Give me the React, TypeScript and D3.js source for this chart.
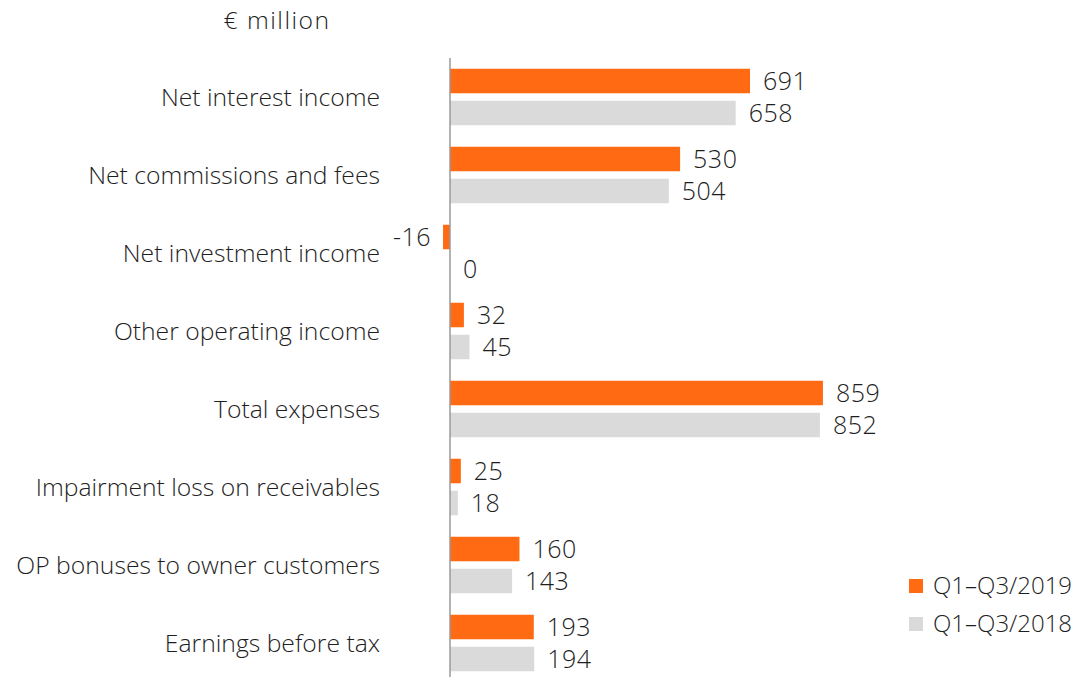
import React from "react";
import * as d3 from "d3";

const categories = [
  "Net interest income",
  "Net commissions and fees",
  "Net investment income",
  "Other operating income",
  "Total expenses",
  "Impairment loss on receivables",
  "OP bonuses to owner customers",
  "Earnings before tax",
];
const series2019 = [691, 530, -16, 32, 859, 25, 160, 193];
const series2018 = [658, 504, 0, 45, 852, 18, 143, 194];
const seriesNames = ["Q1\u2013Q3/2019", "Q1\u2013Q3/2018"];
const colors = ["#FF6A13", "#DADADA"];
const unitLabel = "\u20ac million";

const W = 1082;
const H = 677;
const FONT = "'Open Sans', sans-serif";
const FS = 24.7;
const FW = 300;
const TEXT = "#1e1e1e";

export default function App() {
  const x = d3.scaleLinear().domain([0, 691]).range([450, 750]);
  const y = d3.scaleBand<string>().domain(categories).range([58, 682]);
  const inner = d3
    .scaleBand<string>()
    .domain(seriesNames)
    .range([0, y.step()])
    .paddingInner(0.234)
    .paddingOuter(0.336);
  const all = [series2019, series2018];

  return (
    <div style={{ position: "fixed", left: 0, top: 0 }}>
      <svg width={W} height={H} style={{ display: "block", background: "#fff" }}>
        <text x={277} y={20} dy="0.35em" textAnchor="middle" fontFamily={FONT} fontWeight={FW} fontSize={FS} letterSpacing={1.5} fill={TEXT}>
          {unitLabel}
        </text>
        {categories.map((c, i) => {
          const y0 = y(c)!;
          return (
            <g key={c}>
              <text
                x={380}
                y={y0 + y.step() / 2}
                dy="0.35em"
                textAnchor="end"
                fontFamily={FONT}
                fontWeight={FW}
                fontSize={FS}
                fill={TEXT}
              >
                {c}
              </text>
              {all.map((s, k) => {
                const v = s[i];
                const by = y0 + inner(seriesNames[k])!;
                const bh = inner.bandwidth();
                const x0 = x(Math.min(0, v));
                const x1 = x(Math.max(0, v));
                const neg = v < 0;
                return (
                  <g key={k}>
                    <rect x={x0} y={by} width={x1 - x0} height={bh} fill={colors[k]} />
                    <text
                      x={neg ? x0 - 12 : x1 + 13}
                      y={by + bh / 2}
                      dy="0.35em"
                      textAnchor={neg ? "end" : "start"}
                      fontFamily={FONT}
                      fontWeight={FW}
                      fontSize={25}
                      letterSpacing={0.5}
                      fill={TEXT}
                    >
                      {v}
                    </text>
                  </g>
                );
              })}
            </g>
          );
        })}
        <line x1={x(0)} x2={x(0)} y1={58} y2={H} stroke="#9a9a9a" strokeWidth={1.5} />
        {seriesNames.map((n, k) => (
          <g key={n} transform={`translate(909, ${579 + k * 38})`}>
            <rect width={14} height={14} fill={colors[k]} />
            <text x={24} y={7} dy="0.35em" fontFamily={FONT} fontWeight={FW} fontSize={24} fill={TEXT}>
              {n}
            </text>
          </g>
        ))}
      </svg>
    </div>
  );
}
